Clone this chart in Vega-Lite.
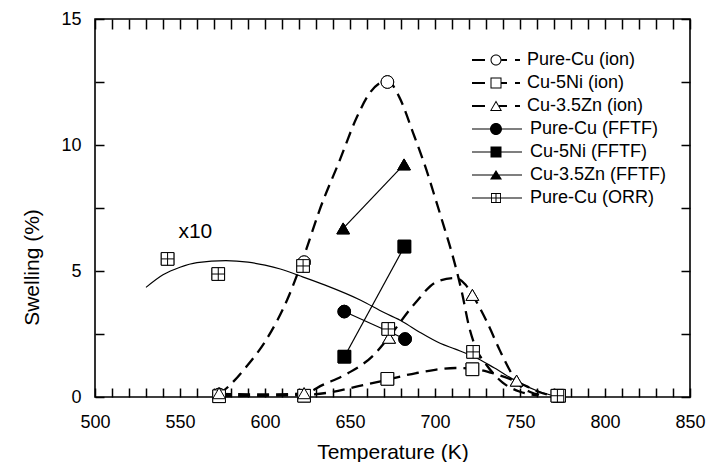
{
  "$schema": "https://vega.github.io/schema/vega-lite/v6.json",
  "width": 595,
  "height": 378,
  "autosize": {"type": "none"},
  "padding": {"left": 95, "top": 19, "right": 18, "bottom": 65},
  "background": "white",
  "config": {
    "font": "Liberation Sans",
    "view": {"stroke": "black", "strokeWidth": 1.6},
    "axis": {
      "domain": false, "grid": false, "tickColor": "black", "tickWidth": 1.5,
      "labelColor": "black", "titleColor": "black", "labelFont": "Liberation Sans", "titleFont": "Liberation Sans",
      "labelFontSize": 18, "titleFontSize": 21, "titleFontWeight": "normal"
    },
    "legend": {"labelFont": "Liberation Sans", "labelFontSize": 18, "labelColor": "black", "labelLimit": 0, "title": null, "padding": 0,
      "orient": "none", "legendX": 391, "symbolSize": 400, "symbolOpacity": 1, "symbolFillColor": "black", "symbolStrokeWidth": 0}
  },
  "datasets": {
    "curves": [
      {"curve": "Cu", "T": 573, "S": 0.1}, {"curve": "Cu", "T": 579, "S": 0.45}, {"curve": "Cu", "T": 589, "S": 1.2},
      {"curve": "Cu", "T": 601, "S": 2.3}, {"curve": "Cu", "T": 613, "S": 3.85}, {"curve": "Cu", "T": 624, "S": 5.8},
      {"curve": "Cu", "T": 632, "S": 7.4}, {"curve": "Cu", "T": 644, "S": 9.4}, {"curve": "Cu", "T": 654, "S": 11.1},
      {"curve": "Cu", "T": 662, "S": 12.1}, {"curve": "Cu", "T": 672, "S": 12.55}, {"curve": "Cu", "T": 679, "S": 11.9},
      {"curve": "Cu", "T": 687, "S": 10.5}, {"curve": "Cu", "T": 695, "S": 9.0}, {"curve": "Cu", "T": 701, "S": 7.7},
      {"curve": "Cu", "T": 706, "S": 6.6}, {"curve": "Cu", "T": 710, "S": 5.7}, {"curve": "Cu", "T": 716, "S": 4.1},
      {"curve": "Cu", "T": 720, "S": 2.8}, {"curve": "Cu", "T": 724, "S": 1.95}, {"curve": "Cu", "T": 730, "S": 1.3},
      {"curve": "Cu", "T": 740, "S": 0.56}, {"curve": "Cu", "T": 750, "S": 0.21}, {"curve": "Cu", "T": 760, "S": 0.07},
      {"curve": "Ni", "T": 573, "S": 0.03}, {"curve": "Ni", "T": 600, "S": 0.05}, {"curve": "Ni", "T": 623, "S": 0.08},
      {"curve": "Ni", "T": 638, "S": 0.18}, {"curve": "Ni", "T": 655, "S": 0.43}, {"curve": "Ni", "T": 668, "S": 0.62},
      {"curve": "Ni", "T": 680, "S": 0.82}, {"curve": "Ni", "T": 689, "S": 0.95}, {"curve": "Ni", "T": 700, "S": 1.08},
      {"curve": "Ni", "T": 712, "S": 1.15}, {"curve": "Ni", "T": 722, "S": 1.12}, {"curve": "Ni", "T": 732, "S": 0.98},
      {"curve": "Ni", "T": 744, "S": 0.72}, {"curve": "Ni", "T": 754, "S": 0.42}, {"curve": "Ni", "T": 762, "S": 0.18},
      {"curve": "Ni", "T": 770, "S": 0.04},
      {"curve": "Zn", "T": 573, "S": 0.12}, {"curve": "Zn", "T": 600, "S": 0.1}, {"curve": "Zn", "T": 623, "S": 0.14},
      {"curve": "Zn", "T": 634, "S": 0.48}, {"curve": "Zn", "T": 649, "S": 0.95}, {"curve": "Zn", "T": 664, "S": 1.67},
      {"curve": "Zn", "T": 672, "S": 2.3}, {"curve": "Zn", "T": 688, "S": 3.7}, {"curve": "Zn", "T": 701, "S": 4.57},
      {"curve": "Zn", "T": 712, "S": 4.72}, {"curve": "Zn", "T": 718, "S": 4.45}, {"curve": "Zn", "T": 722, "S": 4.05},
      {"curve": "Zn", "T": 730, "S": 3.06}, {"curve": "Zn", "T": 738, "S": 1.87}, {"curve": "Zn", "T": 745, "S": 0.94},
      {"curve": "Zn", "T": 750, "S": 0.45}, {"curve": "Zn", "T": 756, "S": 0.2}, {"curve": "Zn", "T": 762, "S": 0.08},
      {"curve": "ORR", "T": 530, "S": 4.35}, {"curve": "ORR", "T": 540, "S": 4.85}, {"curve": "ORR", "T": 550, "S": 5.15},
      {"curve": "ORR", "T": 560, "S": 5.33}, {"curve": "ORR", "T": 577, "S": 5.41}, {"curve": "ORR", "T": 590, "S": 5.35},
      {"curve": "ORR", "T": 600, "S": 5.23}, {"curve": "ORR", "T": 609, "S": 5.08}, {"curve": "ORR", "T": 620, "S": 4.82},
      {"curve": "ORR", "T": 635, "S": 4.45}, {"curve": "ORR", "T": 656, "S": 3.85}, {"curve": "ORR", "T": 670, "S": 3.35},
      {"curve": "ORR", "T": 681, "S": 2.99}, {"curve": "ORR", "T": 691, "S": 2.57}, {"curve": "ORR", "T": 703, "S": 2.13},
      {"curve": "ORR", "T": 712, "S": 1.9}, {"curve": "ORR", "T": 723, "S": 1.6}, {"curve": "ORR", "T": 735, "S": 1.15},
      {"curve": "ORR", "T": 750, "S": 0.55}, {"curve": "ORR", "T": 760, "S": 0.25}, {"curve": "ORR", "T": 768, "S": 0.08}
    ],
    "points": [
      {"series": "Pure-Cu (ion)", "T": 573, "S": 0.1},
      {"series": "Pure-Cu (ion)", "T": 623, "S": 5.35},
      {"series": "Pure-Cu (ion)", "T": 672, "S": 12.5},
      {"series": "Cu-5Ni (ion)", "T": 573, "S": 0.03},
      {"series": "Cu-5Ni (ion)", "T": 623, "S": 0.05},
      {"series": "Cu-5Ni (ion)", "T": 672, "S": 0.72},
      {"series": "Cu-5Ni (ion)", "T": 722, "S": 1.1},
      {"series": "Cu-5Ni (ion)", "T": 773, "S": 0.05},
      {"series": "Cu-3.5Zn (ion)", "T": 573, "S": 0.15},
      {"series": "Cu-3.5Zn (ion)", "T": 623, "S": 0.15},
      {"series": "Cu-3.5Zn (ion)", "T": 673, "S": 2.35},
      {"series": "Cu-3.5Zn (ion)", "T": 722, "S": 4.05},
      {"series": "Cu-3.5Zn (ion)", "T": 748, "S": 0.65},
      {"series": "Pure-Cu (FFTF)", "T": 646.6, "S": 3.39},
      {"series": "Pure-Cu (FFTF)", "T": 682.4, "S": 2.3},
      {"series": "Cu-5Ni (FFTF)", "T": 646.7, "S": 1.6},
      {"series": "Cu-5Ni (FFTF)", "T": 682, "S": 5.97},
      {"series": "Cu-3.5Zn (FFTF)", "T": 646, "S": 6.69},
      {"series": "Cu-3.5Zn (FFTF)", "T": 681.8, "S": 9.23},
      {"series": "Pure-Cu (ORR)", "T": 542.7, "S": 5.48},
      {"series": "Pure-Cu (ORR)", "T": 572.5, "S": 4.88},
      {"series": "Pure-Cu (ORR)", "T": 622.4, "S": 5.2},
      {"series": "Pure-Cu (ORR)", "T": 672.5, "S": 2.7},
      {"series": "Pure-Cu (ORR)", "T": 722.4, "S": 1.79},
      {"series": "Pure-Cu (ORR)", "T": 772, "S": 0.05}
    ]
  },
  "resolve": {"axis": {"x": "independent", "y": "independent"}, "scale": {"shape": "independent"}},
  "layer": [
    {
      "data": {"name": "points"},
      "mark": {"type": "point", "stroke": "black", "strokeWidth": 1, "opacity": 1, "size": 160},
      "encoding": {
        "x": {"field": "T", "type": "quantitative", "scale": {"domain": [500, 850], "nice": false, "zero": false},
          "axis": {"orient": "bottom", "tickSize": -9,
            "values": [500,510,520,530,540,550,560,570,580,590,600,610,620,630,640,650,660,670,680,690,700,710,720,730,740,750,760,770,780,790,800,810,820,830,840,850],
            "labelExpr": "datum.value % 50 === 0 ? datum.label : ''",
            "labelPadding": 39, "labelBaseline": "alphabetic", "labelFlush": false, "labelOverlap": false,
            "title": "Temperature (K)", "titleY": 61, "titleBaseline": "alphabetic",
            "encode": {"ticks": {"y2": {"value": {"expr": "datum.value % 50 === 0 ? -9 : -5"}}}}}},
        "y": {"field": "S", "type": "quantitative", "scale": {"domain": [0, 15], "nice": false, "zero": true},
          "axis": {"orient": "left", "tickSize": -9, "values": [0, 2.5, 5, 7.5, 10, 12.5, 15],
            "labelExpr": "datum.value % 5 === 0 ? datum.label : ''",
            "labelPadding": 23, "labelFlush": false, "labelOverlap": false,
            "title": "Swelling (%)", "titleX": -63, "titleY": 248, "titleAngle": -90, "titleBaseline": "middle", "titleAlign": "center",
            "encode": {"ticks": {"x2": {"value": {"expr": "datum.value % 5 === 0 ? 9 : 5"}}}}}},
        "fill": {"field": "series", "type": "nominal", "legend": null,
          "scale": {"domain": ["Pure-Cu (ion)", "Cu-5Ni (ion)", "Cu-3.5Zn (ion)", "Pure-Cu (FFTF)", "Cu-5Ni (FFTF)", "Cu-3.5Zn (FFTF)", "Pure-Cu (ORR)"],
            "range": ["white", "white", "white", "black", "black", "black", "white"]}},
        "shape": {"field": "series", "type": "nominal", "legend": null,
          "scale": {"domain": ["Pure-Cu (ion)", "Cu-5Ni (ion)", "Cu-3.5Zn (ion)", "Pure-Cu (FFTF)", "Cu-5Ni (FFTF)", "Cu-3.5Zn (FFTF)", "Pure-Cu (ORR)"],
            "range": ["circle", "square", "triangle-up", "circle", "square", "triangle-up", "M-1,-1H1V1H-1ZM0,-1V1M-1,0H1"]}}
      }
    },
    {
      "data": {"name": "curves"},
      "transform": [{"filter": {"field": "curve", "oneOf": ["Cu", "Ni", "Zn"]}}],
      "mark": {"type": "line", "stroke": "black", "strokeWidth": 2.3, "strokeDash": [12, 7], "interpolate": "monotone"},
      "encoding": {
        "x": {"field": "T", "type": "quantitative",
          "axis": {"orient": "top", "tickSize": -10, "labels": false, "title": null,
            "values": [500,510,520,530,540,550,560,570,580,590,600,610,620,630,640,650,660,670,680,690,700,710,720,730,740,750,760,770,780,790,800,810,820,830,840,850],
            "encode": {"ticks": {"y2": {"value": {"expr": "datum.value % 50 === 0 ? 10 : 5"}}}}}},
        "y": {"field": "S", "type": "quantitative",
          "axis": {"orient": "right", "tickSize": -9, "labels": false, "title": null, "values": [0, 2.5, 5, 7.5, 10, 12.5, 15],
            "encode": {"ticks": {"x2": {"value": {"expr": "datum.value % 5 === 0 ? -9 : -5"}}}}}},
        "detail": {"field": "curve"}
      }
    },
    {
      "data": {"name": "curves"},
      "transform": [{"filter": {"field": "curve", "equal": "ORR"}}],
      "mark": {"type": "line", "stroke": "black", "strokeWidth": 1.2, "interpolate": "monotone"},
      "encoding": {
        "x": {"field": "T", "type": "quantitative", "axis": null},
        "y": {"field": "S", "type": "quantitative", "axis": null}
      }
    },
    {
      "data": {"name": "points"},
      "transform": [{"filter": {"field": "series", "oneOf": ["Pure-Cu (FFTF)", "Cu-5Ni (FFTF)", "Cu-3.5Zn (FFTF)"]}}],
      "mark": {"type": "line", "stroke": "black", "strokeWidth": 1.2},
      "encoding": {
        "x": {"field": "T", "type": "quantitative", "axis": null},
        "y": {"field": "S", "type": "quantitative", "axis": null},
        "detail": {"field": "series"}
      }
    },
    {
      "data": {"name": "points"},
      "mark": {"type": "point", "stroke": "black", "strokeWidth": 1, "opacity": 1, "size": 160},
      "encoding": {
        "x": {"field": "T", "type": "quantitative", "axis": null},
        "y": {"field": "S", "type": "quantitative", "axis": null},
        "fill": {"field": "series", "type": "nominal", "legend": null},
        "shape": {"field": "series", "type": "nominal", "legend": null,
          "scale": {"domain": ["Pure-Cu (ion)", "Cu-5Ni (ion)", "Cu-3.5Zn (ion)", "Pure-Cu (FFTF)", "Cu-5Ni (FFTF)", "Cu-3.5Zn (FFTF)", "Pure-Cu (ORR)"],
            "range": ["circle", "square", "triangle-up", "circle", "square", "triangle-up", "M-1,-1H1V1H-1ZM0,-1V1M-1,0H1"]}}
      }
    },
    {
      "data": {"values": [{"label": "x10", "T": 559, "S": 6.55}]},
      "mark": {"type": "text", "fontSize": 21, "font": "Liberation Sans", "color": "black", "align": "center", "baseline": "middle"},
      "encoding": {
        "x": {"field": "T", "type": "quantitative", "axis": null},
        "y": {"field": "S", "type": "quantitative", "axis": null},
        "text": {"field": "label"}
      }
    },
    {
      "data": {"name": "points"},
      "transform": [{"filter": {"field": "series", "equal": "Pure-Cu (ion)"}}],
      "mark": {"type": "point", "fill": "black", "filled": true, "strokeWidth": 0, "opacity": 0},
      "encoding": {
        "x": {"field": "T", "type": "quantitative", "axis": null},
        "y": {"field": "S", "type": "quantitative", "axis": null},
        "shape": {"field": "series", "type": "nominal",
          "scale": {"domain": ["Pure-Cu (ion)"],
            "range": ["M-2.4,-0.1H-1.1V0.1H-2.4ZM0.55,0C0.55,0.304,0.304,0.55,0,0.55C-0.304,0.55,-0.55,0.304,-0.55,0C-0.55,-0.304,-0.304,-0.55,0,-0.55C0.304,-0.55,0.55,-0.304,0.55,0ZM0.45,0C0.45,-0.249,0.249,-0.45,0,-0.45C-0.249,-0.45,-0.45,-0.249,-0.45,0C-0.45,0.249,-0.249,0.45,0,0.45C0.249,0.45,0.45,0.249,0.45,0ZM0.55,-0.1H1.1V0.1H0.55ZM1.9,-0.1H2.4V0.1H1.9Z"]},
          "legend": {"orient": "none", "legendX": 391, "legendY": 31, "labelOffset": 21}}
      }
    },
    {
      "data": {"name": "points"},
      "transform": [{"filter": {"field": "series", "equal": "Cu-5Ni (ion)"}}],
      "mark": {"type": "point", "fill": "black", "filled": true, "strokeWidth": 0, "opacity": 0},
      "encoding": {
        "x": {"field": "T", "type": "quantitative", "axis": null},
        "y": {"field": "S", "type": "quantitative", "axis": null},
        "shape": {"field": "series", "type": "nominal",
          "scale": {"domain": ["Cu-5Ni (ion)"],
            "range": ["M-2.4,-0.1H-1.1V0.1H-2.4ZM-0.55,-0.55H0.55V0.55H-0.55ZM-0.45,-0.45V0.45H0.45V-0.45ZM0.55,-0.1H1.1V0.1H0.55ZM1.9,-0.1H2.4V0.1H1.9Z"]},
          "legend": {"orient": "none", "legendX": 391, "legendY": 54, "labelOffset": 21}}
      }
    },
    {
      "data": {"name": "points"},
      "transform": [{"filter": {"field": "series", "equal": "Cu-3.5Zn (ion)"}}],
      "mark": {"type": "point", "fill": "black", "filled": true, "strokeWidth": 0, "opacity": 0},
      "encoding": {
        "x": {"field": "T", "type": "quantitative", "axis": null},
        "y": {"field": "S", "type": "quantitative", "axis": null},
        "shape": {"field": "series", "type": "nominal",
          "scale": {"domain": ["Cu-3.5Zn (ion)"],
            "range": ["M-2.4,-0.1H-1.1V0.1H-2.4ZM0,-0.55L0.6,0.5L-0.6,0.5ZM0,-0.36L-0.44,0.41L0.44,0.41ZM0.3,-0.1H1.1V0.1H0.3ZM1.9,-0.1H2.4V0.1H1.9Z"]},
          "legend": {"orient": "none", "legendX": 391, "legendY": 77, "labelOffset": 21}}
      }
    },
    {
      "data": {"name": "points"},
      "transform": [{"filter": {"field": "series", "equal": "Pure-Cu (FFTF)"}}],
      "mark": {"type": "point", "fill": "black", "filled": true, "strokeWidth": 0, "opacity": 0},
      "encoding": {
        "x": {"field": "T", "type": "quantitative", "axis": null},
        "y": {"field": "S", "type": "quantitative", "axis": null},
        "shape": {"field": "series", "type": "nominal",
          "scale": {"domain": ["Pure-Cu (FFTF)"],
            "range": ["M-2.4,-0.06H2.6V0.06H-2.4ZM0.6,0C0.6,0.331,0.331,0.6,0,0.6C-0.331,0.6,-0.6,0.331,-0.6,0C-0.6,-0.331,-0.331,-0.6,0,-0.6C0.331,-0.6,0.6,-0.331,0.6,0Z"]},
          "legend": {"orient": "none", "legendX": 391, "legendY": 100, "labelOffset": 24}}
      }
    },
    {
      "data": {"name": "points"},
      "transform": [{"filter": {"field": "series", "equal": "Cu-5Ni (FFTF)"}}],
      "mark": {"type": "point", "fill": "black", "filled": true, "strokeWidth": 0, "opacity": 0},
      "encoding": {
        "x": {"field": "T", "type": "quantitative", "axis": null},
        "y": {"field": "S", "type": "quantitative", "axis": null},
        "shape": {"field": "series", "type": "nominal",
          "scale": {"domain": ["Cu-5Ni (FFTF)"],
            "range": ["M-2.4,-0.06H2.6V0.06H-2.4ZM-0.55,-0.55H0.55V0.55H-0.55Z"]},
          "legend": {"orient": "none", "legendX": 391, "legendY": 123, "labelOffset": 24}}
      }
    },
    {
      "data": {"name": "points"},
      "transform": [{"filter": {"field": "series", "equal": "Cu-3.5Zn (FFTF)"}}],
      "mark": {"type": "point", "fill": "black", "filled": true, "strokeWidth": 0, "opacity": 0},
      "encoding": {
        "x": {"field": "T", "type": "quantitative", "axis": null},
        "y": {"field": "S", "type": "quantitative", "axis": null},
        "shape": {"field": "series", "type": "nominal",
          "scale": {"domain": ["Cu-3.5Zn (FFTF)"],
            "range": ["M-2.4,-0.06H2.6V0.06H-2.4ZM0,-0.5L0.6,0.45L-0.6,0.45Z"]},
          "legend": {"orient": "none", "legendX": 391, "legendY": 146, "labelOffset": 24}}
      }
    },
    {
      "data": {"name": "points"},
      "transform": [{"filter": {"field": "series", "equal": "Pure-Cu (ORR)"}}],
      "mark": {"type": "point", "fill": "black", "filled": true, "strokeWidth": 0, "opacity": 0},
      "encoding": {
        "x": {"field": "T", "type": "quantitative", "axis": null},
        "y": {"field": "S", "type": "quantitative", "axis": null},
        "shape": {"field": "series", "type": "nominal",
          "scale": {"domain": ["Pure-Cu (ORR)"],
            "range": ["M-2.4,-0.06H2.6V0.06H-2.4ZM-0.5,-0.5H0.5V0.5H-0.5ZM-0.41,-0.41V0.41H0.41V-0.41ZM-0.05,-0.5H0.05V0.5H-0.05Z"]},
          "legend": {"orient": "none", "legendX": 391, "legendY": 169, "labelOffset": 24}}
      }
    }
  ]
}
